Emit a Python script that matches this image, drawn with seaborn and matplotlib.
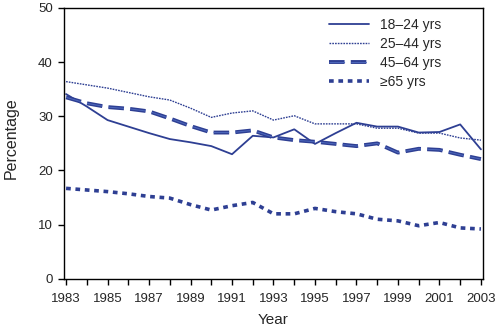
import matplotlib
matplotlib.use("Agg")
import matplotlib.pyplot as plt
import seaborn as sns
import pandas as pd
from matplotlib.lines import Line2D

years = list(range(1983, 2004))
age_18_24 = [34.1, 31.8, 29.3, 28.1, 26.9, 25.8, 25.2, 24.5, 23.0, 26.4, 26.1, 27.6, 24.9, 26.9, 28.8, 28.1, 28.1, 27.0, 27.1, 28.5, 23.9]
age_25_44 = [36.4, 35.8, 35.2, 34.4, 33.6, 33.0, 31.5, 29.8, 30.6, 31.0, 29.3, 30.1, 28.6, 28.6, 28.6, 27.8, 27.8, 26.9, 26.9, 26.0, 25.6]
age_45_64 = [33.5, 32.4, 31.7, 31.4, 30.9, 29.6, 28.2, 27.0, 27.0, 27.4, 26.1, 25.6, 25.3, 24.9, 24.5, 25.0, 23.3, 24.0, 23.8, 22.9, 22.1]
age_65 = [16.7, 16.4, 16.1, 15.7, 15.2, 14.9, 13.7, 12.7, 13.5, 14.1, 12.0, 12.0, 13.0, 12.4, 12.0, 11.0, 10.7, 9.8, 10.4, 9.4, 9.2]
labels = ["18\u201324 yrs", "25\u201344 yrs", "45\u201364 yrs", "\u226565 yrs"]

sns.set_style("ticks")
plt.rcParams['font.family'] = ['Liberation Sans', 'DejaVu Sans']

df = pd.DataFrame({"Year": years * 4,
                   "Percentage": age_18_24 + age_25_44 + age_45_64 + age_65,
                   "Group": sum([[l] * len(years) for l in labels], [])})

color = "#2e3f93"
inner = "#4d68bc"
styles = {labels[0]: dict(ls="-", lw=1.3),
          labels[1]: dict(ls=(0, (1.2, 0.8)), lw=1.0),
          labels[2]: dict(ls=(0, (4, 1.6)), lw=2.8),
          labels[3]: dict(ls=(0, (1.3, 1.3)), lw=2.6)}

fig = plt.figure(figsize=(5, 3.3), dpi=100)
ax = fig.add_axes([0.128, 0.155, 0.838, 0.821])
lw2 = styles[labels[2]]["lw"]
inner_lw = 0.7
inner_ls = (0, (4 * lw2 / inner_lw, 1.6 * lw2 / inner_lw))
for lab in labels:
    sub = df[df["Group"] == lab]
    sns.lineplot(data=sub, x="Year", y="Percentage", ax=ax, color=color,
                 label=lab, linestyle=styles[lab]["ls"], linewidth=styles[lab]["lw"])
    if lab == labels[2]:
        sns.lineplot(data=sub, x="Year", y="Percentage", ax=ax, color=inner,
                     linestyle=inner_ls, linewidth=inner_lw, legend=False)

ax.set_xlim(1982.9, 2003.1)
ax.set_ylim(0, 50)
ax.set_xticks(years, minor=True)
ax.set_xticks(list(range(1983, 2004, 2)))
ax.set_yticks(range(0, 51, 10))
ax.tick_params(axis="both", which="both", direction="out", length=4, width=1,
               labelsize=9.5, color="black", pad=4)
ax.tick_params(axis="x", which="both", pad=6)
for s in ax.spines.values():
    s.set_visible(True)
    s.set_color("black")
    s.set_linewidth(1.0)
ax.set_xlabel("Year", fontsize=11)
ax.set_ylabel("Percentage", fontsize=11.5)
ax.yaxis.set_label_coords(-0.108, 0.52)
ax.xaxis.set_label_coords(0.5, -0.125)

handles, labs = ax.get_legend_handles_labels()
lh = dict(zip(labs, handles))
inner_h = Line2D([], [], color=inner, linewidth=inner_lw, linestyle=inner_ls)
hs = [lh[labels[0]], lh[labels[1]], (lh[labels[2]], inner_h), lh[labels[3]]]
leg = ax.legend(hs, labels, loc="upper left", bbox_to_anchor=(0.632, 0.963),
                frameon=False, fontsize=10, handlelength=2.9, handletextpad=0.75,
                labelspacing=0.35, borderpad=0, borderaxespad=0)
fig.savefig("out.png", dpi=100)
